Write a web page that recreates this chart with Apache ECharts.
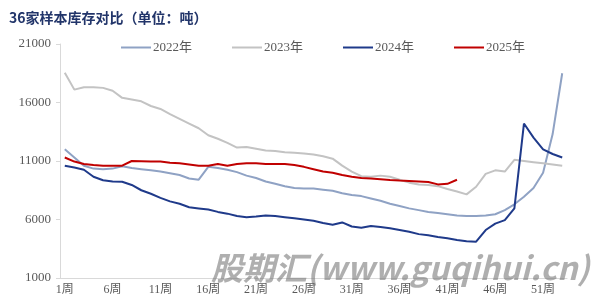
<!DOCTYPE html>
<html>
<head>
<meta charset="utf-8">
<script src="https://cdn.jsdelivr.net/npm/echarts@6/dist/echarts.min.js"></script>
<style>html,body{margin:0;padding:0;background:#fff;}#c{width:613px;height:302px;}</style>
</head>
<body>
<div id="c"></div>
<script>
var weeks = [];
for (var i = 1; i <= 53; i++) weeks.push(i + '周');
var yTicks = [1000, 6000, 11000, 16000, 21000];
var s2022 = [12000,11300,10600,10350,10300,10350,10550,10400,10300,10200,10100,9950,9800,9500,9400,10500,10400,10250,10050,9750,9550,9250,9050,8850,8700,8650,8650,8550,8450,8250,8100,8000,7800,7600,7350,7150,6950,6800,6650,6550,6450,6350,6300,6300,6350,6450,6800,7300,7950,8700,10000,13300,18500];
var s2023 = [18550,17100,17300,17300,17250,17000,16400,16250,16100,15700,15450,15000,14600,14200,13800,13200,12900,12550,12150,12200,12050,11900,11850,11750,11700,11650,11550,11400,11200,10600,10100,9700,9650,9750,9650,9400,9150,9000,8950,8850,8600,8400,8150,8800,9900,10200,10100,11100,11000,10900,10800,10700,10600];
var s2024 = [10600,10450,10250,9650,9350,9250,9230,8950,8500,8200,7850,7550,7350,7050,6950,6850,6650,6500,6300,6200,6250,6350,6300,6200,6100,6000,5900,5700,5550,5750,5400,5300,5450,5350,5250,5100,4950,4750,4650,4500,4400,4250,4150,4100,5100,5650,5950,6950,14200,13000,12000,11600,11300];
var s2025 = [11300,10950,10750,10650,10600,10600,10600,11000,10980,10950,10950,10850,10800,10700,10600,10600,10750,10600,10750,10800,10800,10750,10750,10750,10650,10500,10300,10100,10000,9800,9650,9550,9500,9450,9380,9330,9300,9250,9200,9000,9050,9400];
var names = ['2022年','2023年','2024年','2025年'];
var colors = ['#8FA2C4','#C3C3C3','#1F3A8A','#C00000'];

var chart = echarts.init(document.getElementById('c'));
var serif = '"Liberation Serif", "Noto Sans CJK SC", serif';
function mk(name, data, color) {
  return {name: name, type: 'line', data: data, symbol: 'none', showSymbol: false,
    lineStyle: {color: color, width: 2}, itemStyle: {color: color}, animation: false};
}
chart.setOption({
  animation: false,
  title: {text: '36家样本库存对比（单位：吨）', left: 4, top: 6,
    textStyle: {fontFamily: '"Noto Sans CJK SC", sans-serif', fontWeight: 'bold', fontSize: 14, color: '#22356a'}},
  legend: {data: names, left: 116, top: 36, icon: 'rect', itemWidth: 30, itemHeight: 2, itemGap: 40,
    textStyle: {fontFamily: serif, fontSize: 13, color: '#595959', padding: [0,0,0,-3]}},
  grid: {left: 60, right: 46, top: 44, bottom: 24},
  xAxis: {type: 'category', data: weeks, boundaryGap: true,
    axisLine: {lineStyle: {color: '#d9d9d9'}},
    axisTick: {interval: 0, length: 3, lineStyle: {color: '#d9d9d9'}},
    axisLabel: {interval: 4, margin: 6, fontFamily: serif, fontSize: 12, color: '#595959'}},
  yAxis: {type: 'value', min: 1000, max: 21000,
    axisLine: {show: true, lineStyle: {color: '#d9d9d9'}},
    axisTick: {show: true, length: 4, customValues: yTicks, lineStyle: {color: '#d9d9d9'}},
    axisLabel: {customValues: yTicks, margin: 9, fontFamily: serif, fontSize: 13, color: '#595959',
      formatter: function (v) { return String(v); }},
    splitLine: {show: false}},
  graphic: [{type: 'text', left: 211, top: 252, z: 100,
    style: {text: '股期汇(www.guqihui.cn)', fontSize: 32, fontWeight: 'bold', fontStyle: 'italic',
      fontFamily: '"Noto Sans CJK SC", sans-serif', fill: 'rgba(110,110,110,0.55)'}}],
  series: [mk(names[0], s2022, colors[0]), mk(names[1], s2023, colors[1]), mk(names[2], s2024, colors[2]), mk(names[3], s2025, colors[3])]
});
</script>
</body>
</html>
